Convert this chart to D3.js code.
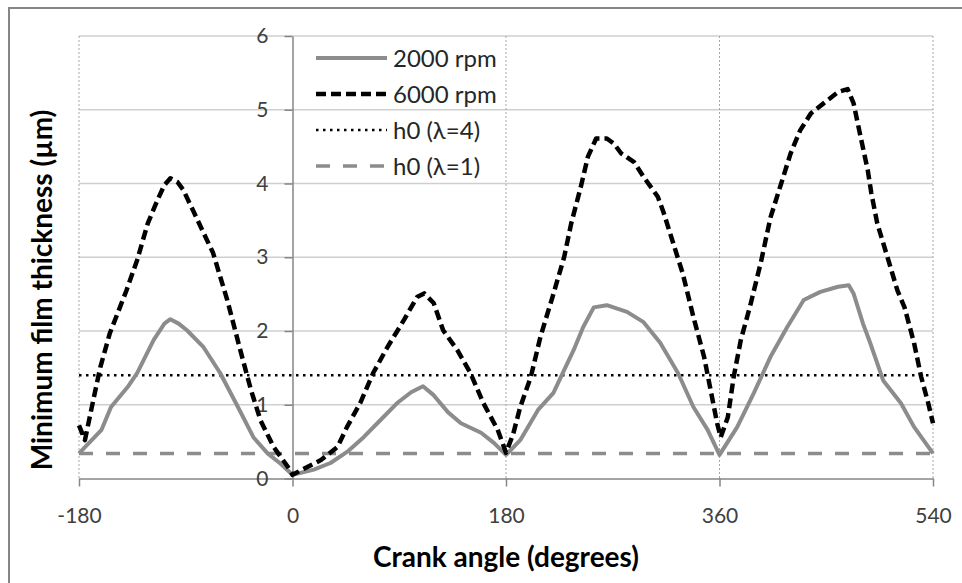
<!DOCTYPE html>
<html lang="en">
<head>
<meta charset="UTF-8">
<title>Minimum film thickness</title>
<script src="https://cdn.jsdelivr.net/npm/d3@7/dist/d3.min.js"></script>
<style>
  body { margin: 0; background: #fff; }
  svg { display: block; font-family: Lato, "Open Sans", sans-serif; }
</style>
</head>
<body>
<svg width="962" height="583"></svg>
<script>
// crank angle (deg) and film thickness (µm)
var angles2000 = [-180,-161,-153,-139,-131,-117,-108,-103,-96,-89,-75,-61,-46,-33,-21,-10,0,
  18,32,46,60,74,88,100,110,119,131,142,159,170,180,
  192,207,220,229,237,245,254,265,282,296,310,325,338,350,360,
  375,389,403,417,431,445,460,469,473,481,487,498,513,524,540];
var film2000 = [0.34,0.66,0.97,1.24,1.43,1.88,2.10,2.16,2.10,2.01,1.78,1.43,0.97,0.56,0.34,0.20,0.05,
  0.12,0.21,0.36,0.56,0.79,1.02,1.17,1.25,1.13,0.90,0.75,0.62,0.48,0.32,
  0.52,0.93,1.16,1.47,1.74,2.05,2.32,2.35,2.26,2.12,1.84,1.43,0.97,0.66,0.32,
  0.70,1.16,1.65,2.05,2.42,2.53,2.60,2.62,2.51,2.10,1.84,1.33,1.02,0.70,0.34];

var angles6000 = [-180,-175,-168,-162,-154,-146,-140,-131,-122,-114,-108,-103,-97,-92,-84,-75,-67,-55,-44,-35,-27,-16,-4,0,
  7,24,38,46,57,68,80,94,105,111,119,127,139,150,161,173,180,
  186,192,201,209,219,229,235,243,249,256,265,271,277,288,296,308,313,321,329,338,347,353,358,361,
  367,372,378,386,395,403,412,420,428,437,448,460,468,473,479,485,488,493,502,510,516,524,530,536,540];
var film6000 = [0.72,0.52,1.06,1.51,1.97,2.30,2.55,2.96,3.46,3.77,3.98,4.07,4.02,3.91,3.64,3.33,3.06,2.42,1.74,1.20,0.79,0.43,0.16,0.05,
  0.11,0.25,0.43,0.70,1.02,1.43,1.78,2.15,2.46,2.51,2.38,2.01,1.74,1.43,1.02,0.66,0.35,
  0.60,0.97,1.38,1.92,2.45,3.00,3.46,3.95,4.36,4.61,4.61,4.54,4.41,4.29,4.09,3.82,3.60,3.19,2.78,2.19,1.65,1.16,0.75,0.56,
  0.83,1.38,1.88,2.35,2.94,3.54,4.00,4.41,4.72,4.95,5.09,5.24,5.28,5.09,4.63,4.18,3.87,3.46,2.98,2.55,2.32,1.84,1.38,1.02,0.75];

var h0Lambda4 = 1.40;
var h0Lambda1 = 0.34;

var xTicks = [-180, 0, 180, 360, 540];
var yTicks = [0, 1, 2, 3, 4, 5, 6];
var legendLabels = ["2000 rpm", "6000 rpm", "h0 (\u03bb=4)", "h0 (\u03bb=1)"];

var svg = d3.select("svg");

// outer chart frame (runs off the right and bottom of the picture)
svg.append("rect")
    .attr("x", 9).attr("y", 8)
    .attr("width", 1000).attr("height", 700)
    .attr("fill", "#fff")
    .attr("stroke", "#868686")
    .attr("stroke-width", 2);

var x = d3.scaleLinear().domain([-180, 540]).range([79, 933]);
var y = d3.scaleLinear().domain([0, 6]).range([478.5, 36]);

// horizontal gridlines
svg.append("g")
    .selectAll("line")
    .data(yTicks.filter(function (d) { return d > 0; }))
    .enter().append("line")
    .attr("x1", x(-180)).attr("x2", x(540))
    .attr("y1", function (d) { return y(d); })
    .attr("y2", function (d) { return y(d); })
    .attr("stroke", "#cfcfcf")
    .attr("stroke-width", 1.5);

// vertical gridlines (dotted)
svg.append("g")
    .selectAll("line")
    .data(xTicks.filter(function (d) { return d !== 0; }))
    .enter().append("line")
    .attr("x1", function (d) { return x(d); })
    .attr("x2", function (d) { return x(d); })
    .attr("y1", y(6)).attr("y2", y(0))
    .attr("stroke", "#a6a6a6")
    .attr("stroke-width", 1)
    .attr("stroke-dasharray", "2,2");

// x axis at y = 0
var xAxis = d3.axisBottom(x)
    .tickValues(xTicks)
    .tickSize(8)
    .tickSizeOuter(0)
    .tickPadding(22)
    .tickFormat(function (d) { return String(d); });
var gx = svg.append("g")
    .attr("transform", "translate(0," + y(0) + ")")
    .call(xAxis);

// y axis at crank angle 0
var yAxis = d3.axisLeft(y)
    .tickValues(yTicks)
    .tickSize(8)
    .tickSizeOuter(0)
    .tickPadding(16)
    .tickFormat(function (d) { return String(d); });
var gy = svg.append("g")
    .attr("transform", "translate(" + x(0) + ",0)")
    .call(yAxis);

[gx, gy].forEach(function (g) {
    g.select(".domain").attr("stroke", "#868686").attr("stroke-width", 1.5);
    g.selectAll(".tick line").attr("stroke", "#868686").attr("stroke-width", 1.5);
    g.selectAll(".tick text")
        .attr("fill", "#404040")
        .style("font-size", "21px")
        .style("font-family", "Lato, sans-serif");
});

// reference lines
svg.append("line")
    .attr("x1", x(-180)).attr("x2", x(540))
    .attr("y1", y(h0Lambda4)).attr("y2", y(h0Lambda4))
    .attr("stroke", "#000")
    .attr("stroke-width", 2.5)
    .attr("stroke-dasharray", "2.5,4.5");

svg.append("line")
    .attr("x1", x(-180)).attr("x2", x(540))
    .attr("y1", y(h0Lambda1)).attr("y2", y(h0Lambda1))
    .attr("stroke", "#8c8c8c")
    .attr("stroke-width", 3.5)
    .attr("stroke-dasharray", "14,13");

var line = d3.line()
    .x(function (d) { return x(d[0]); })
    .y(function (d) { return y(d[1]); });

svg.append("path")
    .datum(d3.zip(angles2000, film2000))
    .attr("d", line)
    .attr("fill", "none")
    .attr("stroke", "#8c8c8c")
    .attr("stroke-width", 4)
    .attr("stroke-linejoin", "round");

svg.append("path")
    .datum(d3.zip(angles6000, film6000))
    .attr("d", line)
    .attr("fill", "none")
    .attr("stroke", "#000")
    .attr("stroke-width", 4.5)
    .attr("stroke-linejoin", "round")
    .attr("stroke-dasharray", "10,5");

// legend
var legendStyles = [
    {stroke: "#8c8c8c", width: 4, dash: null},
    {stroke: "#000", width: 4.5, dash: "10,5"},
    {stroke: "#000", width: 2.5, dash: "2.5,4.5"},
    {stroke: "#8c8c8c", width: 3.5, dash: "14,13"}
];
var legend = svg.append("g").attr("transform", "translate(316,58)");
var items = legend.selectAll("g")
    .data(legendLabels)
    .enter().append("g")
    .attr("transform", function (d, i) { return "translate(0," + (i * 36) + ")"; });
items.append("line")
    .attr("x1", 0).attr("x2", 71)
    .attr("stroke", function (d, i) { return legendStyles[i].stroke; })
    .attr("stroke-width", function (d, i) { return legendStyles[i].width; })
    .attr("stroke-dasharray", function (d, i) { return legendStyles[i].dash; });
items.append("text")
    .attr("x", 77)
    .attr("dy", "0.36em")
    .attr("fill", "#262626")
    .style("font-size", "24px")
    .text(function (d) { return d; });

// axis titles
svg.append("text")
    .attr("x", 506).attr("y", 567)
    .attr("text-anchor", "middle")
    .style("font-size", "28px")
    .style("font-weight", "bold")
    .text("Crank angle (degrees)");

svg.append("text")
    .attr("transform", "translate(52,290) rotate(-90)")
    .attr("text-anchor", "middle")
    .style("font-size", "28px")
    .style("font-weight", "bold")
    .text("Minimum film thickness (\u00b5m)");
</script>
</body>
</html>
